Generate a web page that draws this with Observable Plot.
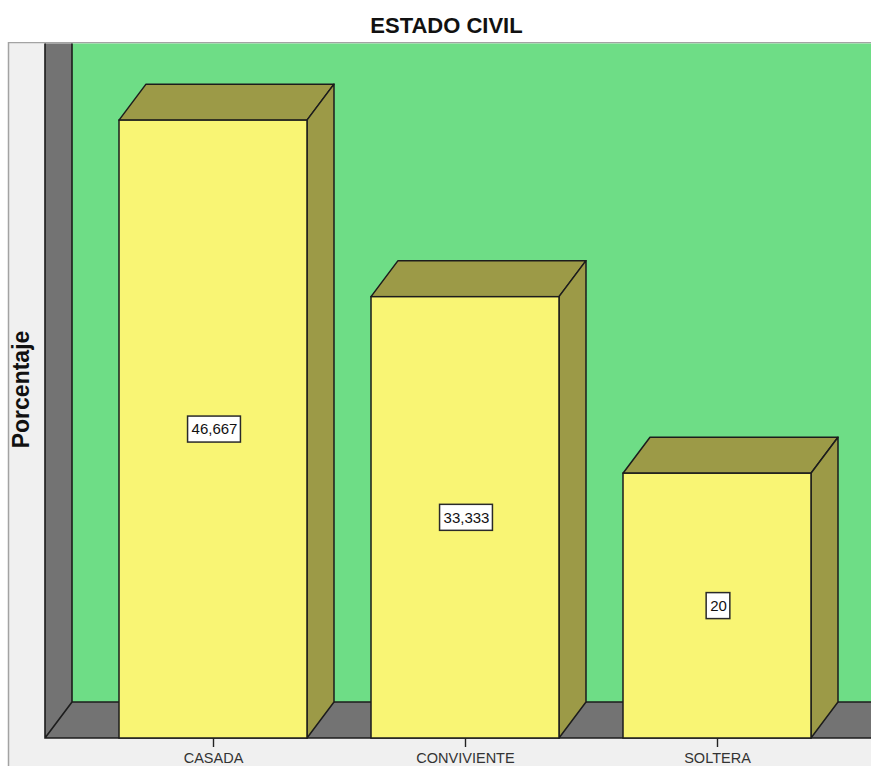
<!DOCTYPE html>
<html><head><meta charset="utf-8">
<script src="https://cdn.jsdelivr.net/npm/d3@7"></script>
<script src="https://cdn.jsdelivr.net/npm/@observablehq/plot@0.6"></script>
<style>
html,body{margin:0;padding:0;background:#fff;overflow:hidden;}
#title{box-sizing:border-box;width:871px;height:42px;padding-top:14px;padding-left:22px;text-align:center;font:bold 22px/24px "Liberation Sans",Arial,sans-serif;color:#111;}
#chart svg{display:block;}
</style></head><body>
<div id="title">ESTADO CIVIL</div>
<div id="chart"></div>
<script>
const categories = ["CASADA", "CONVIVIENTE", "SOLTERA"];
const values = [46.667, 33.333, 20];
const valueLabels = ["46,667", "33,333", "20"];
const yDomain = [0, 50];
const yTitle = "Porcentaje";

const data = categories.map((c, i) => ({category: c, value: values[i], label: valueLabels[i]}));

// style constants
const DX = 27, DY = -36;
const C = {
  panel: "#f0f0f0", frame: "#a3a3a3", wall: "#737373", green: "#6edd86",
  front: "#f9f574", face: "#9c9a47", line: "#1c1c1c"
};

const xOptions = {domain: categories, range: [55, 875], padding: 0.254, round: false};

function bandWidth(scales) {
  const cands = [];
  const x = scales.x;
  if (x) {
    if (typeof x.bandwidth === "function") cands.push(x.bandwidth());
    else cands.push(x.bandwidth);
  }
  if (scales.scales && scales.scales.x) cands.push(scales.scales.x.bandwidth);
  try { cands.push(Plot.scale({x: xOptions}).bandwidth); } catch (e) {}
  cands.push(d3.scaleBand(xOptions.domain, xOptions.range).padding(xOptions.padding).bandwidth());
  for (const c of cands) if (Number.isFinite(c) && c > 0) return c;
  return 0;
}

// background panel + frame
function background(index, scales, values, dims) {
  const g = d3.create("svg:g");
  g.append("rect").attr("x", 8).attr("y", 0).attr("width", dims.width - 8).attr("height", dims.height)
    .attr("fill", C.panel);
  g.append("path").attr("d", `M8.5,${dims.height}V0.5H${dims.width}`).attr("fill", "none")
    .attr("stroke", C.frame).attr("stroke-width", 1.5);
  return g.node();
}

// back wall, side wall and floor of the 3D box
function walls(index, scales, values, dims) {
  const g = d3.create("svg:g");
  const y0 = scales.y(0);
  const xl = dims.marginLeft;
  const xr = dims.width;
  const top = 1.5;
  g.append("rect").attr("x", xl + DX).attr("y", top).attr("width", xr - xl - DX).attr("height", y0 + DY - top)
    .attr("fill", C.green);
  g.append("path").attr("d", `M${xl},${top}H${xl + DX}V${y0 + DY}L${xl},${y0}Z`).attr("fill", C.wall);
  g.append("path").attr("d", `M${xl},${y0}L${xl + DX},${y0 + DY}H${xr + 2}V${y0}Z`).attr("fill", C.wall);
  g.append("path")
    .attr("d", `M${xl},${top}V${y0}H${xr + 2}M${xl + DX},${top}V${y0 + DY}H${xr + 2}M${xl},${y0}L${xl + DX},${y0 + DY}`)
    .attr("fill", "none").attr("stroke", C.line).attr("stroke-width", 1.6);
  return g.node();
}

// top and side faces of each bar
function faces(index, scales) {
  const g = d3.create("svg:g");
  const y0 = scales.y(0);
  const w = bandWidth(scales);
  for (const d of data) {
    const x0 = scales.x(d.category), x1 = x0 + w, yt = scales.y(d.value);
    g.append("path").attr("d", `M${x0},${yt}L${x0 + DX},${yt + DY}H${x1 + DX}L${x1},${yt}Z`)
      .attr("fill", C.face).attr("stroke", C.line).attr("stroke-width", 1.5).attr("stroke-linejoin", "round");
    g.append("path").attr("d", `M${x1},${yt}L${x1 + DX},${yt + DY}V${y0 + DY}L${x1},${y0}Z`)
      .attr("fill", C.face).attr("stroke", C.line).attr("stroke-width", 1.5).attr("stroke-linejoin", "round");
  }
  return g.node();
}

// white boxes behind the value labels
function valueBoxes(index, scales) {
  const g = d3.create("svg:g");
  const ctx = document.createElement("canvas").getContext("2d");
  ctx.font = "15px 'Liberation Sans', Arial, sans-serif";
  const w = bandWidth(scales);
  for (const d of data) {
    const cx = scales.x(d.category) + w / 2 + 1;
    const cy = scales.y(d.value / 2);
    const bwid = ctx.measureText(d.label).width + 7;
    g.append("rect").attr("x", cx - bwid / 2).attr("y", cy - 13).attr("width", bwid).attr("height", 26)
      .attr("fill", "#fff").attr("stroke", "#2a2a2a").attr("stroke-width", 1.5);
  }
  return g.node();
}

const chart = Plot.plot({
  width: 871,
  height: 724,
  marginLeft: 45,
  marginRight: 0,
  marginTop: 34,
  marginBottom: 28,
  style: {fontFamily: "'Liberation Sans', Arial, sans-serif", fontSize: "14.5px", background: "transparent", overflow: "hidden"},
  x: xOptions,
  y: {domain: yDomain, axis: null},
  marks: [
    background,
    walls,
    faces,
    Plot.barY(data, {x: "category", y: "value", fill: C.front, stroke: C.line, strokeWidth: 1.5}),
    valueBoxes,
    Plot.text(data, {x: "category", y: d => d.value / 2, text: "label", fontSize: 15, fill: "#111", dx: 1}),
    Plot.axisX({tickSize: 9, tickPadding: 5, label: null, stroke: "#222", strokeWidth: 1.4, fill: "#333", fontSize: 14.5}),
    Plot.text([yTitle], {text: d => d, frameAnchor: "left", textAnchor: "middle", lineAnchor: "middle",
      rotate: -90, dx: -23.5, dy: -18, fontWeight: "bold", fontSize: 23, fill: "#111"})
  ]
});
document.getElementById("chart").appendChild(chart);
</script>
</body></html>
